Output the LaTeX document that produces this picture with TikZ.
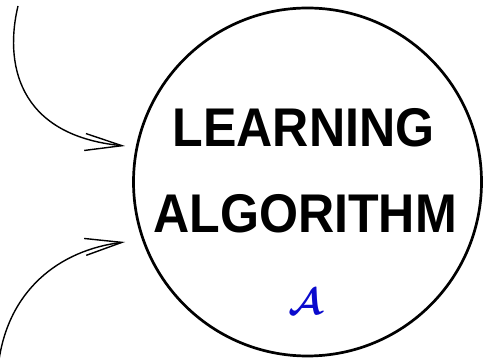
\documentclass[tikz,border=0pt]{standalone}
\usepackage{fontspec}
\usepackage{amsmath}
\setmainfont{Liberation Sans}
\usetikzlibrary{arrows.meta}
\definecolor{calblue}{RGB}{10,10,205}
\tikzset{
  bigword/.style={inner sep=0pt, anchor=base, font=\fontsize{54.5}{60}\selectfont\bfseries},
  feed/.style={line width=1.4pt, -{Straight Barb[length=37pt,width=17pt,line width=1.4pt]}},
  algcircle/.style={circle, draw, line width=2.7pt, minimum size=348pt, inner sep=0pt}
}
\begin{document}
\begin{tikzpicture}[x=1pt,y=-1pt]
\useasboundingbox (0,0) rectangle (484,363);
\node[algcircle] (alg) at (307.5,182) {};
\node[bigword] (l1) at (303.5,147) {\scalebox{0.92}[1]{LEARNING}};
\node[bigword] (l2) at (305,233) {\scalebox{0.92}[1]{ALGORITHM}};
\node[inner sep=0pt, text=calblue] (cal) at (305,302) {\resizebox{34pt}{!}{$\boldsymbol{\mathcal{A}}$}};
\coordinate (s1) at (18,6);
\coordinate (t1) at (125,146);
\coordinate (s2) at (-2,368);
\coordinate (t2) at (125,242);
\draw[feed] (s1) .. controls (5,60) and (15,135) .. (t1);
\draw[feed] (s2) .. controls (6,290) and (60,250) .. (t2);
\end{tikzpicture}
\end{document}
